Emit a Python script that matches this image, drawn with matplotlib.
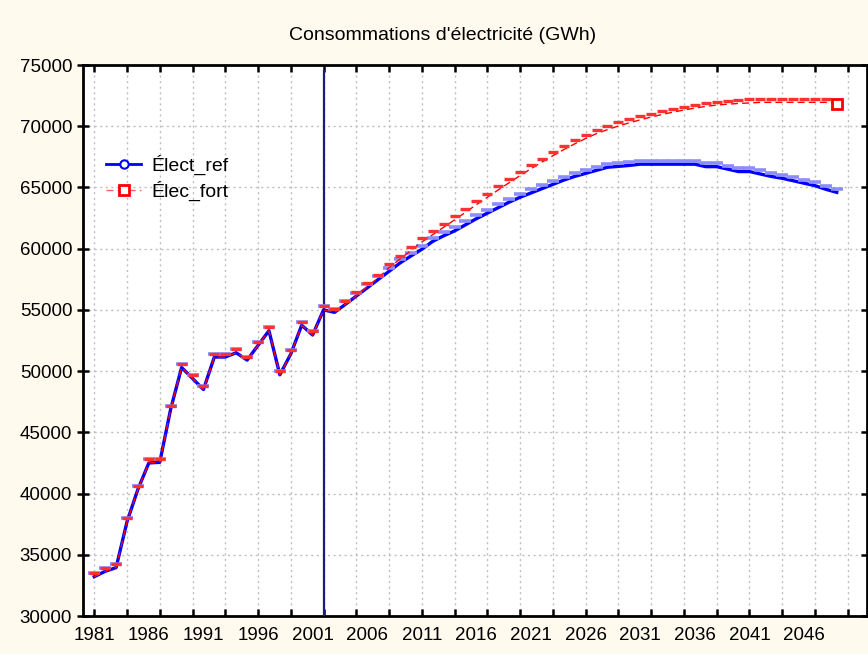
import matplotlib
matplotlib.use('Agg')
import matplotlib.pyplot as plt
from matplotlib.lines import Line2D
from matplotlib import transforms

# ---------------- data ----------------
years = list(range(1981, 2050))
hist = [33210, 33650, 33950, 37700, 40350, 42500, 42550, 46900, 50300, 49400,
        48500, 51150, 51150, 51500, 50900, 52100, 53300, 49700, 51400, 53750,
        52950, 55000]  # 1981-2002
ref_proj = [54800, 55450, 56130, 56800, 57480, 58150, 58830, 59400, 59950, 60600,
            61050, 61450, 61950, 62450, 62900, 63350, 63800, 64200, 64550, 64900,
            65250, 65600, 65900, 66150, 66400, 66650, 66720, 66800, 66900, 66900,
            66900, 66900, 66900, 66900, 66700, 66700, 66500, 66300, 66300, 66100,
            65900, 65750, 65550, 65350, 65150, 64850, 64600]  # 2003-2049
fort_proj = [54800, 55450, 56150, 56900, 57600, 58450, 59150, 59850, 60550, 61150,
             61750, 62350, 62970, 63590, 64200, 64800, 65390, 65970, 66530, 67070,
             67590, 68090, 68560, 69000, 69400, 69720, 70020, 70280, 70520, 70750,
             70960, 71150, 71320, 71480, 71620, 71730, 71800, 71860, 71900, 71950,
             71950, 71950, 71950, 71950, 71950, 71950, 71850]  # 2003-2049
elect_ref = hist + ref_proj
elec_fort = hist + fort_proj
series_labels = ['Élect_ref', 'Élec_fort']
title = "Consommations d'électricité (GWh)"
x_label_years = list(range(1981, 2050, 5))
x_tick_years = list(range(1981, 2051, 3))
y_ticks = list(range(30000, 75001, 5000))
split_year = 2002

# ---------------- figure ----------------
plt.rcParams['font.family'] = ['Liberation Sans', 'DejaVu Sans']
fig = plt.figure(figsize=(8.68, 6.54), dpi=100)
fig.patch.set_facecolor('#FFF9EE')
ax = fig.add_axes([0.096, 0.0581, 0.9032, 0.8425])
ax.set_facecolor('white')

ax.set_xlim(1980.0, 2051.8)
ax.set_ylim(30000, 75000)

ax.xaxis.remove_overlapping_locs = False
ax.set_xticks(x_tick_years)
ax.set_xticklabels([''] * len(x_tick_years))
ax.set_xticks(x_label_years, [str(y) for y in x_label_years], minor=True)
ax.set_yticks(y_ticks, [str(v) for v in y_ticks])
ax.grid(True, which='major', color='#BEBEBE', linestyle=(0, (1.5, 2.5)), linewidth=1.0)
ax.set_axisbelow(True)

ax.tick_params(axis='x', which='major', direction='in', length=5, width=1.8,
               top=True, bottom=True, labelsize=13.5)
ax.tick_params(axis='x', which='minor', length=0, pad=8, labelsize=13.5, colors='black',
               top=False, bottom=True)
ax.tick_params(axis='y', which='major', direction='inout', length=8, width=1.8,
               left=True, right=True, labelsize=13.5, pad=4)
for s in ax.spines.values():
    s.set_linewidth(2.0)
    s.set_color('black')

# vertical split line
ax.vlines(split_year, 30000, 74600, color='#1C1C7A', linewidth=1.6, zorder=3)

off = transforms.offset_copy(ax.transData, fig=fig, x=0, y=3.5, units='dots')

# ref series
ax.plot(years, elect_ref, color='#0000FF', linewidth=2.4, zorder=4, solid_joinstyle='round')
ax.plot(years, elect_ref, linestyle='none', marker='_', markersize=8, markeredgewidth=2.6,
        color='#8C8CFF', transform=off, zorder=4)
# fort series
ax.plot(years, elec_fort, color='#FF0000', linewidth=1.0, linestyle=(0, (5, 3)), zorder=5)
ax.plot(years, elec_fort, linestyle='none', marker='_', markersize=6.5, markeredgewidth=2.4,
        color='#FF3030', transform=off, zorder=5)
ax.plot([years[-1]], [elec_fort[-1]], linestyle='none', marker='s', markersize=7,
        markerfacecolor='white', markeredgecolor='#FF0000', markeredgewidth=2, zorder=6)

# legend
handles = [
    Line2D([], [], color='#0000FF', linewidth=2, marker='o', markersize=6,
           markerfacecolor='white', markeredgecolor='#0000FF', markeredgewidth=1.5),
    Line2D([], [], color='#FF6060', linewidth=1, linestyle=(0, (5, 3)), marker='s', markersize=7,
           markerfacecolor='white', markeredgecolor='#FF0000', markeredgewidth=2),
]
ax.legend(handles, series_labels, loc='upper left', bbox_to_anchor=(0.029, 0.837),
          frameon=False, fontsize=14, handlelength=1.8, handletextpad=0.55,
          labelspacing=0.3, borderaxespad=0, borderpad=0)

fig.text(0.51, 0.945, title, ha='center', va='center', fontsize=14)

fig.savefig('out.png', dpi=100, facecolor=fig.get_facecolor())
